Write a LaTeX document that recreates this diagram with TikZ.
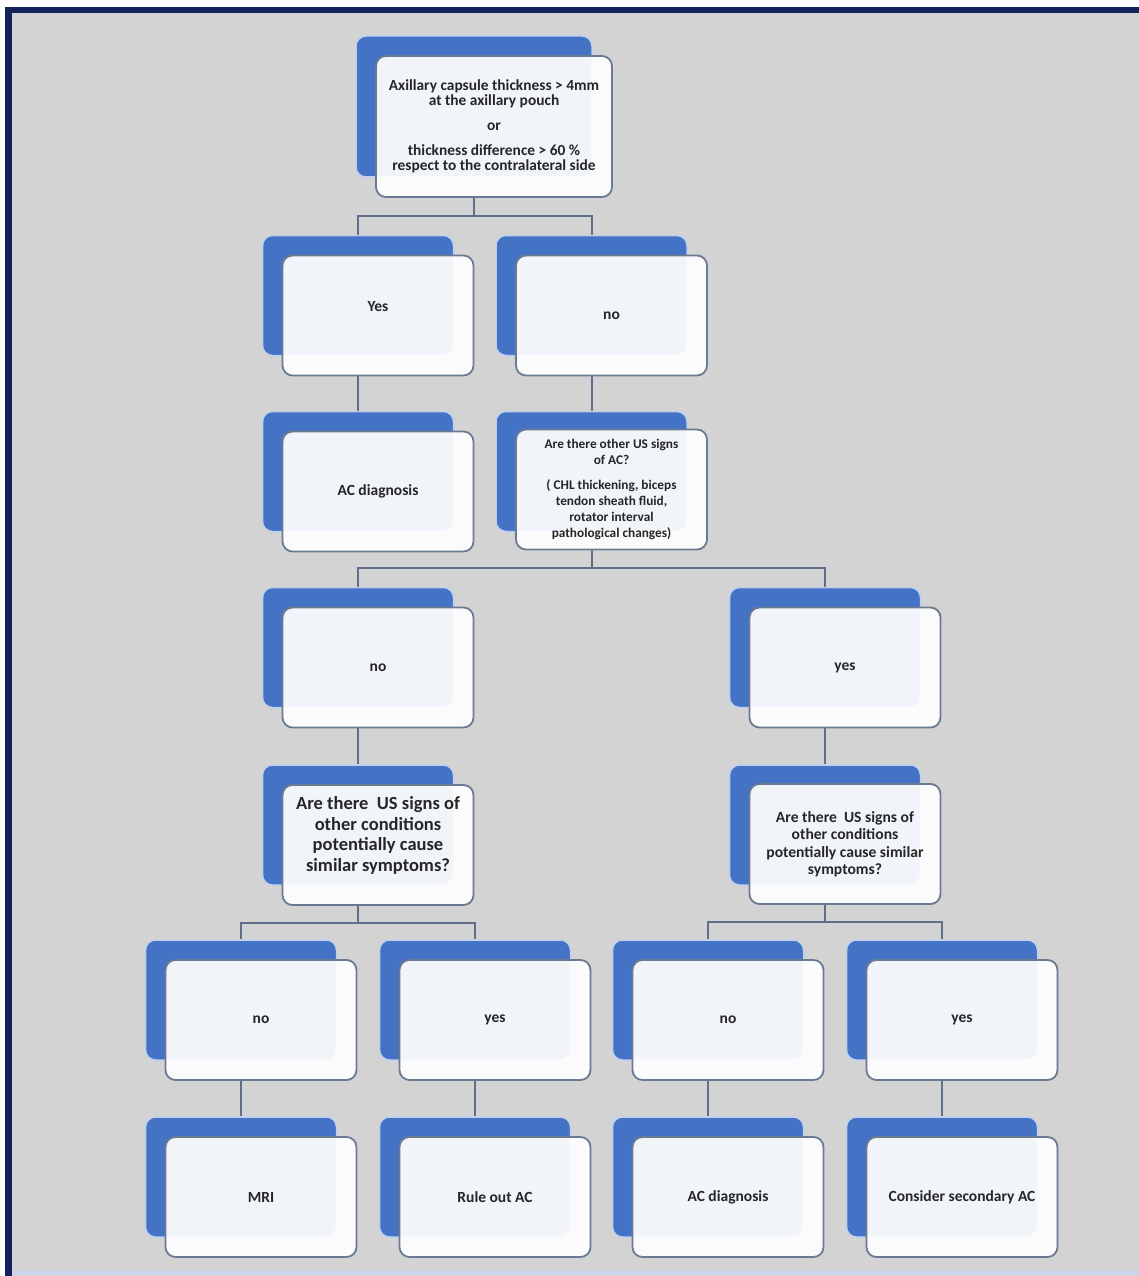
\documentclass[tikz,border=0pt]{standalone}
\usepackage{fontspec}
\setmainfont{Carlito}
\definecolor{bgray}{HTML}{D3D3D3}
\definecolor{sablue}{HTML}{4472C4}
\definecolor{backedge}{HTML}{BFD0EE}
\definecolor{frontedge}{HTML}{6B7A93}
\definecolor{linec}{HTML}{5F6F8A}
\definecolor{navy}{HTML}{16225C}
\definecolor{textc}{HTML}{262626}
\definecolor{lightline}{HTML}{C9D8F0}
\pgfdeclarelayer{bg}\pgfdeclarelayer{lines}\pgfsetlayers{bg,lines,main}
\begin{document}
\begin{tikzpicture}[x=1pt,y=-1pt,
  back/.style={draw=backedge, line width=1.5pt, fill=sablue, rounded corners=10pt,
    minimum width=191pt, minimum height=120pt, inner sep=0pt},
  front/.style={draw=frontedge, line width=1.8pt, fill=white, fill opacity=0.93, text opacity=1,
    rounded corners=10pt, minimum width=191pt, minimum height=120pt, inner sep=0pt,
    align=center, text=textc, font=\bfseries\fontsize{15.5}{17}\selectfont},
  big/.style={minimum width=236pt, minimum height=141pt},
  conn/.style={draw=linec, line width=2pt}]
\useasboundingbox (0,0) rectangle (1139,1276);
\begin{pgfonlayer}{bg}
  \fill[white] (0,0) rectangle (1139,1276);
  \fill[bgray] (5,7) rectangle (1139,1276);
  \fill[navy] (5,7) rectangle (1139,13);
  \fill[navy] (5,7) rectangle (12,1276);
  \fill[lightline] (12,1271) rectangle (1139,1274);
\end{pgfonlayer}

% level 1
\node[back,big] (topB) at (474,106.5) {};
\node[front,big,font=\bfseries\fontsize{15.4}{15}\selectfont] (top) at (494,126.5)
  {Axillary capsule thickness > 4mm\\at the axillary pouch\\[10pt]or\\[10pt]thickness difference > 60 \%\\respect to the contralateral side};

% level 2
\node[back] (yesB) at (358,295.5) {};
\node[front] (yes) at (378,315.5) {Yes\\[1pt]\mbox{}};
\node[back] (noB) at (591.5,295.5) {};
\node[front] (no) at (611.5,315.5) {no};

% level 3
\node[back] (acB) at (358,471.5) {};
\node[front] (ac) at (378,491.5) {AC diagnosis};
\node[back] (q1B) at (591.5,471.5) {};
\node[front,font=\bfseries\fontsize{13.3}{16}\selectfont] (q1) at (611.5,489.5)
  {Are there other US signs\\of AC?\\[9pt]( CHL thickening, biceps\\tendon sheath fluid,\\rotator interval\\pathological changes)};

% level 4
\node[back] (n4B) at (358,647.5) {};
\node[front] (n4) at (378,667.5) {no};
\node[back] (y4B) at (825,647.5) {};
\node[front] (y4) at (845,667.5) {yes};

% level 5
\node[back] (q2B) at (358,825) {};
\node[front,font=\bfseries\fontsize{18.5}{20.5}\selectfont] (q2) at (378,845)
  {Are there\ \ US signs of\\other conditions\\potentially cause\\similar symptoms?\\[2pt]\mbox{}};
\node[back] (q3B) at (825,825) {};
\node[front,font=\bfseries\fontsize{15.6}{17.5}\selectfont] (q3) at (845,844)
  {Are there\ \ US signs of\\other conditions\\potentially cause similar\\symptoms?};

% level 6
\node[back] (n6aB) at (241,1000) {};
\node[front] (n6a) at (261,1020) {no};
\node[back] (y6aB) at (475,1000) {};
\node[front] (y6a) at (495,1020) {yes};
\node[back] (n6bB) at (708,1000) {};
\node[front] (n6b) at (728,1020) {no};
\node[back] (y6bB) at (942,1000) {};
\node[front] (y6b) at (962,1020) {yes};

% level 7
\node[back] (mriB) at (241,1177) {};
\node[front] (mri) at (261,1197) {MRI};
\node[back] (ruleB) at (475,1177) {};
\node[front] (rule) at (495,1197) {Rule out AC};
\node[back] (ac2B) at (708,1177) {};
\node[front] (ac2) at (728,1197) {AC diagnosis};
\node[back] (secB) at (942,1177) {};
\node[front] (sec) at (962,1197) {Consider secondary AC};

\begin{pgfonlayer}{lines}
  \draw[conn] (topB |- top.south) -- ++(0,18) -| (yesB.north);
  \draw[conn] (topB |- top.south) -- ++(0,18) -| (noB.north);
  \draw[conn] (yesB |- yes.south) -- (acB.north);
  \draw[conn] (noB |- no.south) -- (q1B.north);
  \draw[conn] (q1B |- q1.south) -- ++(0,18) -| (n4B.north);
  \draw[conn] (q1B |- q1.south) -- ++(0,18) -| (y4B.north);
  \draw[conn] (n4B |- n4.south) -- (q2B.north);
  \draw[conn] (y4B |- y4.south) -- (q3B.north);
  \draw[conn] (q2B |- q2.south) -- ++(0,17) -| (n6aB.north);
  \draw[conn] (q2B |- q2.south) -- ++(0,17) -| (y6aB.north);
  \draw[conn] (q3B |- q3.south) -- ++(0,17) -| (n6bB.north);
  \draw[conn] (q3B |- q3.south) -- ++(0,17) -| (y6bB.north);
  \draw[conn] (n6aB |- n6a.south) -- (mriB.north);
  \draw[conn] (y6aB |- y6a.south) -- (ruleB.north);
  \draw[conn] (n6bB |- n6b.south) -- (ac2B.north);
  \draw[conn] (y6bB |- y6b.south) -- (secB.north);
\end{pgfonlayer}
\end{tikzpicture}
\end{document}
